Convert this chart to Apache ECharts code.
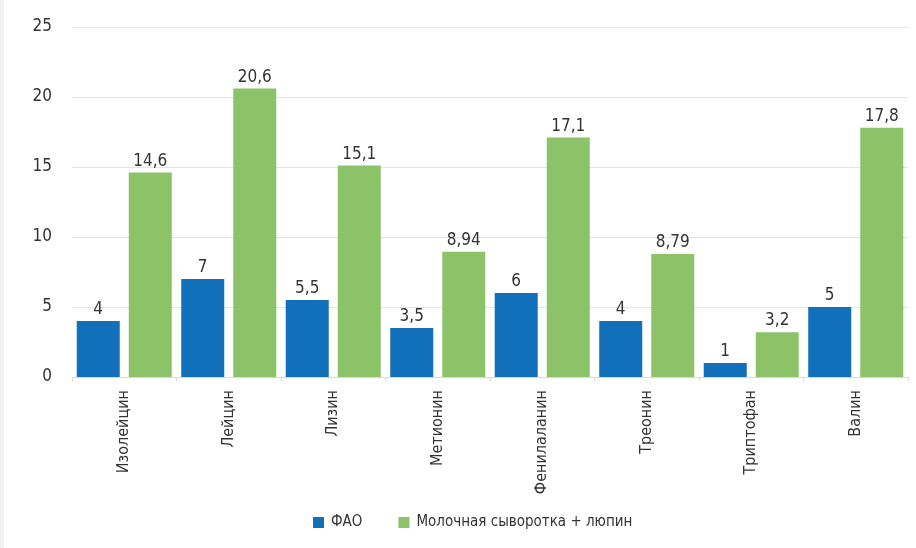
<!DOCTYPE html>
<html>
<head>
<meta charset="utf-8">
<script src="https://cdn.jsdelivr.net/npm/echarts@6/dist/echarts.min.js"></script>
<style>
  html, body { margin: 0; padding: 0; background: #ffffff; }
  #chart { width: 916px; height: 548px; }
</style>
</head>
<body>
<div id="chart"></div>
<script>
// Amino acids, grams per 100 g of protein
const categories = ['Изолейцин', 'Лейцин', 'Лизин', 'Метионин', 'Фенилаланин', 'Треонин', 'Триптофан', 'Валин'];
const seriesNames = ['ФАО', 'Молочная сыворотка + люпин'];
const faoValues = [4, 7, 5.5, 3.5, 6, 4, 1, 5];
const blendValues = [14.6, 20.6, 15.1, 8.94, 17.1, 8.79, 3.2, 17.8];
const yTicks = [0, 5, 10, 15, 20, 25];

const FONT = '"Liberation Sans Narrow", "DejaVu Sans Condensed", "Noto Sans", sans-serif';
const TEXT = '#333333';

const fmt = v => String(v).replace('.', ',');

const chart = echarts.init(document.getElementById('chart'));
chart.setOption({
  animation: false,
  backgroundColor: '#ffffff',
  textStyle: { fontFamily: FONT },
  graphic: [{
    type: 'rect',
    shape: { x: 0, y: 0, width: 4, height: 548 },
    style: { fill: '#f2f2f2' },
    silent: true
  }],
  grid: { left: 72, right: 8, top: 27, bottom: 171 },
  legend: {
    bottom: 13,
    left: 308,
    itemWidth: 11,
    itemHeight: 11,
    itemGap: 36,
    icon: 'rect',
    textStyle: { fontFamily: FONT, fontSize: 15, color: TEXT, padding: [0, 0, 0, 2] },
    data: seriesNames
  },
  xAxis: {
    type: 'category',
    data: categories,
    axisLine: { lineStyle: { color: '#d9d9d9', width: 1 } },
    axisTick: { show: true, length: 4, lineStyle: { color: '#d9d9d9' } },
    axisLabel: {
      rotate: 90,
      interval: 0,
      margin: 13,
      fontFamily: FONT,
      fontSize: 16,
      color: TEXT
    }
  },
  yAxis: {
    type: 'value',
    min: yTicks[0],
    max: yTicks[yTicks.length - 1],
    interval: yTicks[1] - yTicks[0],
    axisLine: { show: false },
    axisTick: { show: false },
    splitLine: { lineStyle: { color: '#e3e3e3', width: 1 } },
    axisLabel: {
      margin: 20,
      fontFamily: FONT,
      fontSize: 17,
      color: TEXT
    }
  },
  series: [
    {
      name: seriesNames[0],
      type: 'bar',
      data: faoValues,
      barWidth: 43,
      barGap: '21%',
      itemStyle: { color: '#1170b9' },
      label: {
        show: true,
        position: 'top',
        distance: 3,
        fontFamily: FONT,
        fontSize: 17,
        color: TEXT,
        formatter: p => fmt(p.value)
      }
    },
    {
      name: seriesNames[1],
      type: 'bar',
      data: blendValues,
      barWidth: 43,
      barGap: '21%',
      itemStyle: { color: '#8cc268' },
      label: {
        show: true,
        position: 'top',
        distance: 3,
        fontFamily: FONT,
        fontSize: 17,
        color: TEXT,
        formatter: p => fmt(p.value)
      }
    }
  ]
});
</script>
</body>
</html>
